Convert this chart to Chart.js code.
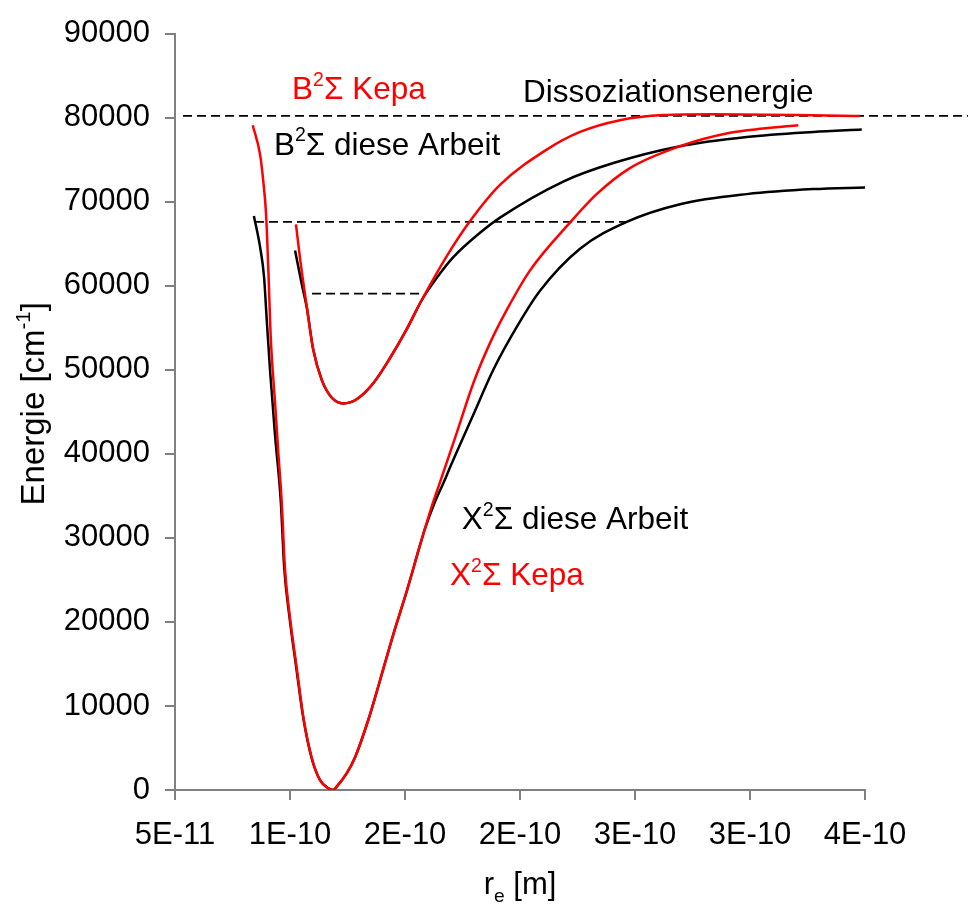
<!DOCTYPE html>
<html>
<head>
<meta charset="utf-8">
<script src="https://cdn.jsdelivr.net/npm/chart.js@4.4.1/dist/chart.umd.min.js"></script>
<style>
  html, body { margin: 0; padding: 0; background: #fff; overflow: hidden; }
  #wrap { width: 968px; height: 908px; position: relative; }
</style>
</head>
<body>
<div id="wrap"><canvas id="chart" width="968" height="908"></canvas></div>
<script>
// Potential energy curves of the X²Σ and B²Σ states.
// Internuclear distance r in units of 1e-10 m, energy in cm^-1.

// X²Σ, Kepa
const rXKepa = [0.838, 0.870, 0.884, 0.896, 0.906, 0.916, 0.935, 0.949, 0.964, 0.978, 1.000, 1.029, 1.058, 1.094, 1.130, 1.167, 1.187, 1.203, 1.247, 1.283, 1.340, 1.391, 1.449, 1.507, 1.565, 1.623, 1.652, 1.725, 1.797, 1.870, 1.942, 2.043, 2.217, 2.333, 2.478, 2.696, 2.913, 3.058, 3.210];
const eXKepa = [79100, 75600, 72400, 68500, 61800, 54000, 46100, 40200, 34300, 26400, 20500, 14600, 8700, 3900, 1200, 200, 0, 400, 2000, 3900, 8300, 13000, 18500, 23600, 29100, 34300, 36600, 42500, 48400, 53200, 57100, 61800, 67500, 70900, 74000, 76600, 78200, 78700, 79100];

// X²Σ, diese Arbeit
const rXArbeit = [0.843, 0.870, 0.887, 0.899, 0.913, 0.935, 0.960, 0.975, 0.998, 1.027, 1.057, 1.093, 1.130, 1.167, 1.187, 1.203, 1.247, 1.283, 1.340, 1.391, 1.449, 1.507, 1.565, 1.587, 1.630, 1.670, 1.696, 1.797, 1.884, 1.986, 2.087, 2.261, 2.464, 2.696, 2.986, 3.275, 3.500];
const eXArbeit = [68300, 64600, 61100, 55900, 50000, 42200, 34300, 26400, 20500, 14600, 8700, 3900, 1200, 200, 0, 400, 2000, 3900, 8300, 13000, 18500, 23600, 29100, 31100, 34250, 36700, 38400, 44650, 50000, 55100, 59400, 64400, 67600, 69700, 70900, 71500, 71700];

// B²Σ, Kepa
const rBKepa = [1.026, 1.043, 1.073, 1.101, 1.138, 1.181, 1.232, 1.290, 1.362, 1.435, 1.507, 1.573, 1.681, 1.783, 1.913, 2.116, 2.261, 2.435, 2.623, 2.840, 3.478];
const eBKepa = [67300, 63400, 57500, 52400, 48800, 46700, 46000, 46500, 48400, 51400, 54800, 58300, 63500, 67700, 72000, 76200, 78300, 79700, 80300, 80400, 80200];

// B²Σ, diese Arbeit
const rBArbeit = [1.022, 1.051, 1.073, 1.101, 1.138, 1.181, 1.232, 1.290, 1.362, 1.435, 1.507, 1.573, 1.640, 1.710, 1.826, 1.913, 2.188, 2.406, 2.696, 2.986, 3.275, 3.486];
const eBArbeit = [64200, 60200, 57400, 52400, 48800, 46700, 46000, 46500, 48400, 51400, 54800, 58300, 61000, 63400, 66300, 68100, 72400, 74600, 76600, 77700, 78300, 78600];

// Horizontal reference levels (dashed)
const dissociationR = [0.535, 3.948];
const dissociationE = [80200, 80200];
const levelAR = [0.848, 2.464];
const levelAE = [67600, 67600];
const levelBR = [1.096, 1.565];
const levelBE = [59050, 59050];

// Axis ticks
const xTickValues = [0.5, 1.0, 1.5, 2.0, 2.5, 3.0, 3.5];
const xTickLabels = ['5E-11', '1E-10', '2E-10', '2E-10', '3E-10', '3E-10', '4E-10'];
const yTickStep = 10000;

// Axis titles and curve captions (^ = superscript, _ = subscript)
const xTitle = 'r_e [m]';
const yTitle = 'Energie [cm^{-1}]';
const captions = [
  { text: 'B^2Σ Kepa',            r: 1.009, e: 82200, color: '#ff0000' },
  { text: 'Dissoziationsenergie', r: 2.013, e: 81900, color: '#000000' },
  { text: 'B^2Σ diese Arbeit',    r: 0.930, e: 75600, color: '#000000' },
  { text: 'X^2Σ diese Arbeit',    r: 1.747, e: 31000, color: '#000000' },
  { text: 'X^2Σ Kepa',            r: 1.696, e: 24400, color: '#ff0000' }
];

const FONT = '"Liberation Sans", Arial, Helvetica, sans-serif';
const FONT_SIZE = 31;
const CAPTION_SIZE = 31.5;
const TITLE_SIZE = 33;
const AXIS_COLOR = '#808080';

const toPoints = (rs, es) => rs.map((r, i) => ({ x: r, y: es[i] }));

function curve(label, rs, es, color) {
  return {
    label, data: toPoints(rs, es), showLine: true, fill: false,
    borderColor: color, borderWidth: 2.5, pointRadius: 0,
    cubicInterpolationMode: 'monotone'
  };
}
function dashed(label, rs, es) {
  return {
    label, data: toPoints(rs, es), showLine: true, fill: false,
    borderColor: '#000', borderWidth: 1.8, borderDash: [9, 5],
    pointRadius: 0, tension: 0, clip: false
  };
}

// Split "B^2Σ" style strings into normal / superscript / subscript runs
function parseRich(str) {
  const segs = [];
  let buf = '', i = 0;
  while (i < str.length) {
    const c = str[i];
    if (c === '^' || c === '_') {
      if (buf) { segs.push({ t: buf, k: 'n' }); buf = ''; }
      let t;
      if (str[i + 1] === '{') {
        const j = str.indexOf('}', i);
        t = str.slice(i + 2, j);
        i = j + 1;
      } else {
        t = str[i + 1];
        i += 2;
      }
      segs.push({ t, k: c === '^' ? 'sup' : 'sub' });
    } else {
      buf += c; i++;
    }
  }
  if (buf) segs.push({ t: buf, k: 'n' });
  return segs;
}

function drawRich(ctx, str, x, y, size, color, align) {
  const segs = parseRich(str);
  let total = 0;
  segs.forEach(s => {
    s.size = s.k === 'n' ? size : size * 0.62;
    ctx.font = s.size + 'px ' + FONT;
    s.w = ctx.measureText(s.t).width;
    total += s.w;
  });
  let cx = align === 'center' ? x - total / 2 : x;
  ctx.fillStyle = color;
  ctx.textAlign = 'left';
  ctx.textBaseline = 'alphabetic';
  segs.forEach(s => {
    ctx.font = s.size + 'px ' + FONT;
    const dy = s.k === 'sup' ? -size * 0.42 : (s.k === 'sub' ? size * 0.27 : 0);
    ctx.fillText(s.t, cx, y + dy);
    cx += s.w;
  });
}

const textPlugin = {
  id: 'richText',
  afterDatasetsDraw(chart) {
    const { ctx, scales: { x, y } } = chart;
    ctx.save();
    captions.forEach(c => {
      drawRich(ctx, c.text, x.getPixelForValue(c.r), y.getPixelForValue(c.e), CAPTION_SIZE, c.color, 'left');
    });
    drawRich(ctx, xTitle, (x.left + x.right) / 2, x.bottom - 14, FONT_SIZE, '#000', 'center');
    ctx.translate(y.left + 44, (y.top + y.bottom) / 2 - 8);
    ctx.rotate(-Math.PI / 2);
    drawRich(ctx, yTitle, 0, 0, TITLE_SIZE, '#000', 'center');
    ctx.restore();
  }
};

const gridStyle = {
  display: true, drawOnChartArea: false, drawTicks: true,
  tickLength: 10, color: AXIS_COLOR, lineWidth: 2
};
const borderStyle = { display: true, color: AXIS_COLOR, width: 2 };

new Chart(document.getElementById('chart'), {
  type: 'scatter',
  data: {
    datasets: [
      curve('X²Σ Kepa', rXKepa, eXKepa, '#ff0000'),
      curve('B²Σ Kepa', rBKepa, eBKepa, '#ff0000'),
      curve('X²Σ diese Arbeit', rXArbeit, eXArbeit, '#000000'),
      curve('B²Σ diese Arbeit', rBArbeit, eBArbeit, '#000000'),
      dashed('Dissoziationsenergie', dissociationR, dissociationE),
      dashed('Niveau 1', levelAR, levelAE),
      dashed('Niveau 2', levelBR, levelBE)
    ]
  },
  options: {
    responsive: false,
    animation: false,
    layout: { padding: { left: 0, right: 103, top: 29, bottom: 0 } },
    plugins: { legend: { display: false }, tooltip: { enabled: false } },
    scales: {
      x: {
        type: 'linear', min: 0.5, max: 3.5,
        afterFit(s) { s.height = 118; },
        afterBuildTicks(s) { s.ticks = xTickValues.map(v => ({ value: v })); },
        ticks: {
          color: '#000', font: { family: FONT, size: FONT_SIZE }, padding: 17,
          maxRotation: 0, autoSkip: false,
          callback: (v, i) => xTickLabels[i]
        },
        grid: gridStyle, border: borderStyle
      },
      y: {
        type: 'linear', min: 0, max: 90000,
        afterFit(s) { s.width = 175; },
        ticks: {
          stepSize: yTickStep, color: '#000', font: { family: FONT, size: FONT_SIZE }, padding: 15,
          callback: v => String(v)
        },
        grid: gridStyle, border: borderStyle
      }
    }
  },
  plugins: [textPlugin]
});
</script>
</body>
</html>
